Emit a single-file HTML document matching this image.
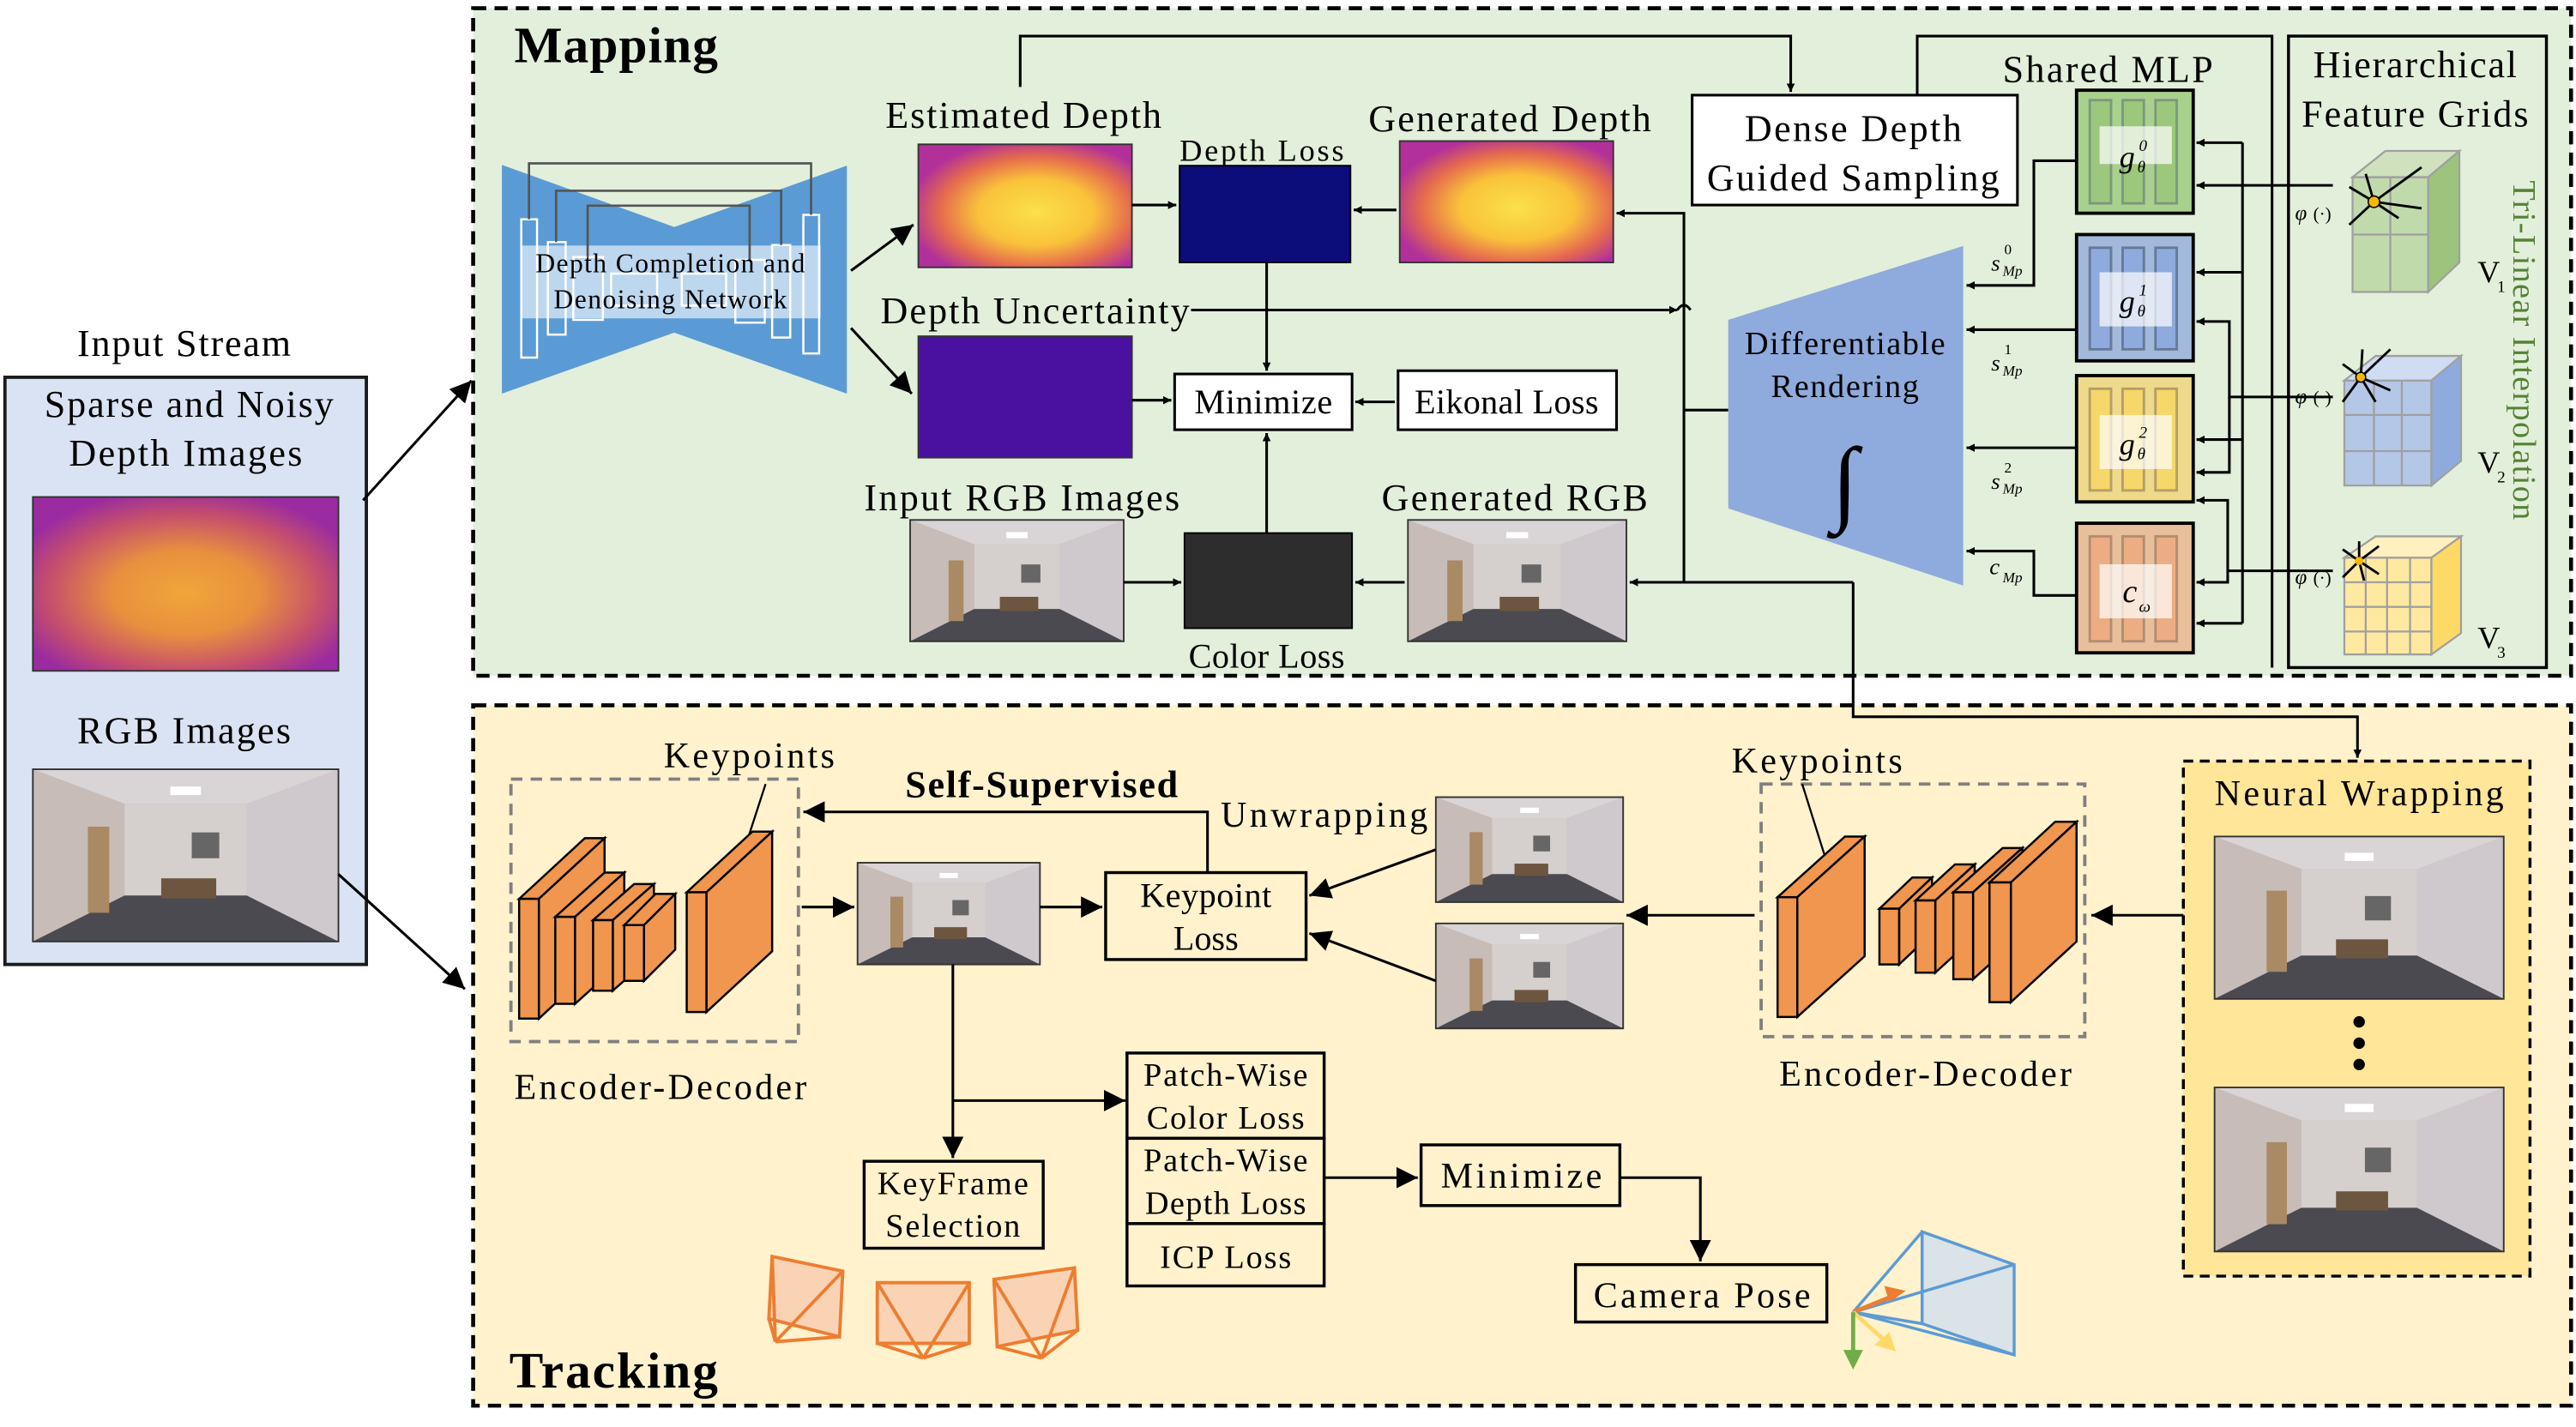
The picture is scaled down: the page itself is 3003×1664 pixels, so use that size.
<!DOCTYPE html>
<html><head><meta charset="utf-8"><style>
html,body{margin:0;padding:0;background:#fff;}
svg{display:block;}
text{font-family:"Liberation Serif",serif;fill:#000;}
</style></head><body>
<svg width="3003" height="1664" viewBox="0 0 1568 870" preserveAspectRatio="none" xmlns="http://www.w3.org/2000/svg">
<defs>
<marker id="ar" viewBox="0 0 10 10" refX="10" refY="5" markerWidth="5" markerHeight="5" orient="auto" markerUnits="userSpaceOnUse"><path d="M0,0 L10,5 L0,10 z" fill="#000"/></marker>
<marker id="a2" viewBox="0 0 10 10" refX="10" refY="5" markerWidth="13" markerHeight="13" orient="auto" markerUnits="userSpaceOnUse"><path d="M0,0 L10,5 L0,10 z" fill="#000"/></marker>
<radialGradient id="dep2" cx="0.55" cy="0.55" r="0.6"><stop offset="0" stop-color="#fbe14a"/><stop offset="0.45" stop-color="#f9c23a"/><stop offset="0.75" stop-color="#e56a4e"/><stop offset="1" stop-color="#b2309a"/></radialGradient>
<radialGradient id="noisy" cx="0.5" cy="0.55" r="0.6"><stop offset="0" stop-color="#f0a63a"/><stop offset="0.4" stop-color="#e8903e"/><stop offset="0.75" stop-color="#c54f6c"/><stop offset="1" stop-color="#9a2ba0"/></radialGradient>
<symbol id="room" viewBox="0 0 100 60" preserveAspectRatio="none">
<rect width="100" height="60" fill="#bdb4b2"/>
<polygon points="0,0 100,0 70,12 30,12" fill="#d9d4d6"/>
<polygon points="0,0 30,12 30,44 0,60" fill="#c7bcb8"/>
<polygon points="100,0 70,12 70,44 100,60" fill="#cfc9cd"/>
<rect x="30" y="12" width="40" height="32" fill="#d5cfcd"/>
<polygon points="30,44 70,44 100,60 0,60" fill="#4a4a50"/>
<rect x="45" y="6" width="10" height="3" fill="#fff"/>
<rect x="52" y="22" width="9" height="9" fill="#666"/>
<rect x="18" y="20" width="7" height="30" fill="#a98a64"/>
<rect x="42" y="38" width="18" height="7" fill="#6c5640"/>
</symbol>
</defs>

<!-- Input stream -->
<text x="112" y="217" font-size="23" text-anchor="middle" textLength="130">Input Stream</text>
<rect x="3" y="230" width="220" height="358" fill="#dae3f3" stroke="#1a1a1a" stroke-width="2"/>
<text x="115" y="254" font-size="23" text-anchor="middle" textLength="176">Sparse and Noisy</text>
<text x="113" y="284" font-size="23" text-anchor="middle" textLength="142">Depth Images</text>
<rect x="20" y="303" width="186" height="106" fill="url(#noisy)" stroke="#333" stroke-width="1"/>
<text x="112" y="453" font-size="23" text-anchor="middle" textLength="130">RGB Images</text>
<use href="#room" x="20" y="469" width="186" height="105"/>
<rect x="20" y="469" width="186" height="105" fill="none" stroke="#333" stroke-width="1"/>
<line x1="221" y1="305" x2="287" y2="232" stroke="#000" stroke-width="1.6" marker-end="url(#a2)"/>
<line x1="206" y1="533" x2="283" y2="603" stroke="#000" stroke-width="1.6" marker-end="url(#a2)"/>

<!-- Mapping panel -->
<rect x="288" y="5" width="1277" height="407" fill="#e2efda" stroke="#000" stroke-width="2.4" stroke-dasharray="8,5"/>
<text x="313" y="38" font-size="31" font-weight="bold" textLength="124">Mapping</text>

<!-- network -->
<polygon points="305.5,100.5 410.4,138.4 515.5,101 515.5,240 410.4,202.8 305.5,240" fill="#5b9bd5"/>
<rect x="316.8" y="149.7" width="182.7" height="44.4" fill="#bdd7ee"/>
<g fill="none" stroke="#fff" stroke-width="1.3">
<rect x="317.3" y="133.7" width="9.6" height="84.3"/><rect x="333.5" y="147.6" width="10.8" height="56.4"/><rect x="349" y="156.7" width="18" height="38.3"/><rect x="372" y="166.8" width="28" height="19.5"/><rect x="415" y="166.8" width="27" height="19.5"/><rect x="447.6" y="158.4" width="17.9" height="38.3"/><rect x="470" y="149.4" width="11" height="56.4"/><rect x="489" y="131" width="9.6" height="84.5"/>
</g>
<g fill="none" stroke="#555" stroke-width="1.4">
<polyline points="322,133.7 322,99.6 493.7,99.6 493.7,131"/>
<polyline points="338.5,147.6 338.5,116.3 475.5,116.3 475.5,149.4"/>
<polyline points="357.7,156.7 357.7,125.4 456.3,125.4 456.3,158.4"/>
</g>
<text x="408" y="166" font-size="16.5" text-anchor="middle" textLength="164">Depth Completion and</text>
<text x="408" y="188" font-size="16.5" text-anchor="middle" textLength="142">Denoising Network</text>
<line x1="518" y1="165" x2="556" y2="137" stroke="#000" stroke-width="1.6" marker-end="url(#a2)"/>
<line x1="518" y1="200" x2="555" y2="240" stroke="#000" stroke-width="1.6" marker-end="url(#a2)"/>

<text x="623" y="78" font-size="23" text-anchor="middle" textLength="168">Estimated Depth</text>
<rect x="559" y="88" width="130" height="75" fill="url(#dep2)" stroke="#333" stroke-width="1"/>
<text x="768" y="98" font-size="19" text-anchor="middle" textLength="100">Depth Loss</text>
<rect x="718" y="101" width="104" height="59" fill="#0c0c7a" stroke="#000" stroke-width="1"/>
<text x="919" y="80" font-size="23" text-anchor="middle" textLength="172">Generated Depth</text>
<rect x="852" y="86" width="130" height="74" fill="url(#dep2)" stroke="#333" stroke-width="1"/>
<text x="630" y="197" font-size="23" text-anchor="middle" textLength="188">Depth Uncertainty</text>
<rect x="559" y="205" width="130" height="74" fill="#4a10a0" stroke="#333" stroke-width="1"/>
<rect x="715" y="228" width="108" height="34" fill="#fff" stroke="#000" stroke-width="1.6"/>
<text x="769" y="252" font-size="21" text-anchor="middle" textLength="84">Minimize</text>
<rect x="851" y="226" width="133" height="36" fill="#fff" stroke="#000" stroke-width="1.6"/>
<text x="917" y="252" font-size="21" text-anchor="middle" textLength="112">Eikonal Loss</text>
<text x="622" y="311" font-size="23" text-anchor="middle" textLength="192">Input RGB Images</text>
<use href="#room" x="554" y="317" width="130" height="74"/>
<rect x="554" y="317" width="130" height="74" fill="none" stroke="#333"/>
<rect x="721" y="325" width="102" height="58" fill="#2d2d2d" stroke="#000"/>
<text x="771" y="407" font-size="21" text-anchor="middle" textLength="95">Color Loss</text>
<text x="922" y="311" font-size="23" text-anchor="middle" textLength="162">Generated RGB</text>
<use href="#room" x="857" y="317" width="133" height="74"/>
<rect x="857" y="317" width="133" height="74" fill="none" stroke="#333"/>

<g stroke="#000" stroke-width="1.6" fill="none">
<line x1="689" y1="125" x2="716" y2="125" marker-end="url(#ar)"/>
<line x1="850" y1="128" x2="824" y2="128" marker-end="url(#ar)"/>
<line x1="771" y1="160" x2="771" y2="226" marker-end="url(#ar)"/>
<line x1="689" y1="244" x2="713" y2="244" marker-end="url(#ar)"/>
<line x1="849" y1="245" x2="825" y2="245" marker-end="url(#ar)"/>
<line x1="771" y1="325" x2="771" y2="264" marker-end="url(#ar)"/>
<line x1="684" y1="355" x2="719" y2="355" marker-end="url(#ar)"/>
<line x1="855" y1="355" x2="825" y2="355" marker-end="url(#ar)"/>
<polyline points="621,53 621,22 1090,22 1090,56" marker-end="url(#ar)"/>
<polyline points="725,189 1021,189 M1029,189 1060,189 1060,127" marker-end="url(#ar)"/>
<path d="M1021,189 q4,-6 8,0"/>
<polyline points="1025,355 1025,130 984,130" marker-end="url(#ar)"/>
<line x1="1128" y1="355" x2="992" y2="355" marker-end="url(#ar)"/>
<line x1="1025" y1="250" x2="1052" y2="250"/>
</g>

<rect x="1030" y="58" width="198" height="67" fill="#fff" stroke="#000" stroke-width="1.6"/>
<text x="1128" y="86" font-size="23" text-anchor="middle" textLength="132">Dense Depth</text>
<text x="1128" y="116" font-size="23" text-anchor="middle" textLength="178">Guided Sampling</text>

<polygon points="1052,195 1195,150 1195,357 1052,310" fill="#8faadc"/>
<text x="1123" y="216" font-size="20" text-anchor="middle" textLength="122">Differentiable</text>
<text x="1123" y="242" font-size="20" text-anchor="middle" textLength="90">Rendering</text>
<text x="1123" y="313" font-size="58" font-style="italic" text-anchor="middle">∫</text>

<polyline points="1167,58 1167,22 1383,22 1383,407" fill="none" stroke="#000" stroke-width="1.6"/>
<text x="1283" y="50" font-size="23" text-anchor="middle" textLength="128">Shared MLP</text>

<!-- MLP boxes -->
<g stroke-width="2">
<rect x="1264" y="55" width="71" height="75" fill="#a9d18e" stroke="#000"/>
<rect x="1264" y="143" width="71" height="77" fill="#a3b9dc" stroke="#000"/>
<rect x="1264" y="229" width="71" height="77" fill="#efd98a" stroke="#000"/>
<rect x="1264" y="319" width="71" height="79" fill="#e8bf9b" stroke="#000"/>
</g>
<g stroke-width="1.5" stroke-opacity="0.5">
<rect x="1272" y="61" width="13" height="63" fill="#9bc87c" stroke="#567"/><rect x="1292" y="61" width="13" height="63" fill="#9bc87c" stroke="#567"/><rect x="1312" y="61" width="13" height="63" fill="#9bc87c" stroke="#567"/>
<rect x="1272" y="151" width="13" height="62" fill="#8faadc" stroke="#345"/><rect x="1292" y="151" width="13" height="62" fill="#8faadc" stroke="#345"/><rect x="1312" y="151" width="13" height="62" fill="#8faadc" stroke="#345"/>
<rect x="1272" y="237" width="13" height="62" fill="#f5d76a" stroke="#765"/><rect x="1292" y="237" width="13" height="62" fill="#f5d76a" stroke="#765"/><rect x="1312" y="237" width="13" height="62" fill="#f5d76a" stroke="#765"/>
<rect x="1272" y="327" width="13" height="64" fill="#edad84" stroke="#765"/><rect x="1292" y="327" width="13" height="64" fill="#edad84" stroke="#765"/><rect x="1312" y="327" width="13" height="64" fill="#edad84" stroke="#765"/>
</g>
<g fill="#fff" fill-opacity="0.7">
<rect x="1278" y="77" width="44" height="23"/><rect x="1278" y="166" width="44" height="33"/><rect x="1278" y="253" width="44" height="33"/><rect x="1278" y="344" width="44" height="33"/>
</g>
<g font-style="italic">
<text x="1290" y="102" font-size="19">g</text><text x="1302" y="92" font-size="10">0</text><text x="1301" y="105" font-size="10">θ</text>
<text x="1290" y="190" font-size="19">g</text><text x="1302" y="180" font-size="10">1</text><text x="1301" y="193" font-size="10">θ</text>
<text x="1290" y="277" font-size="19">g</text><text x="1302" y="267" font-size="10">2</text><text x="1301" y="280" font-size="10">θ</text>
<text x="1292" y="367" font-size="20">c</text><text x="1302" y="373" font-size="10">ω</text>
</g>

<g stroke="#000" stroke-width="1.6" fill="none">
<polyline points="1264,98 1238,98 1238,174 1197,174" marker-end="url(#ar)"/>
<line x1="1264" y1="201" x2="1197" y2="201" marker-end="url(#ar)"/>
<line x1="1264" y1="273" x2="1197" y2="273" marker-end="url(#ar)"/>
<polyline points="1264,363 1238,363 1238,336 1197,336" marker-end="url(#ar)"/>
<polyline points="1365,87 1365,380"/>
<line x1="1365" y1="87" x2="1337" y2="87" marker-end="url(#ar)"/>
<line x1="1365" y1="166" x2="1337" y2="166" marker-end="url(#ar)"/>
<line x1="1365" y1="268" x2="1337" y2="268" marker-end="url(#ar)"/>
<line x1="1365" y1="380" x2="1337" y2="380" marker-end="url(#ar)"/>
<line x1="1365" y1="113" x2="1337" y2="113" marker-end="url(#ar)"/>
<line x1="1420" y1="113" x2="1365" y2="113"/>
<polyline points="1420,242 1357,242 1357,196 1337,196" marker-end="url(#ar)"/>
<polyline points="1357,242 1357,288 1337,288" marker-end="url(#ar)"/>
<polyline points="1420,348 1356,348 1356,305 1337,305" marker-end="url(#ar)"/>
<polyline points="1356,348 1356,355 1337,355" marker-end="url(#ar)"/>
</g>
<text x="1212" y="165" font-size="14" font-style="italic">s</text><text x="1220" y="155" font-size="9">0</text><text x="1219" y="168" font-size="9" font-style="italic">Mp</text>
<text x="1212" y="226" font-size="14" font-style="italic">s</text><text x="1220" y="216" font-size="9">1</text><text x="1219" y="229" font-size="9" font-style="italic">Mp</text>
<text x="1212" y="298" font-size="14" font-style="italic">s</text><text x="1220" y="288" font-size="9">2</text><text x="1219" y="301" font-size="9" font-style="italic">Mp</text>
<text x="1211" y="350" font-size="14" font-style="italic">c</text><text x="1219" y="355" font-size="9" font-style="italic">Mp</text>

<!-- feature grids -->
<rect x="1393" y="22" width="157" height="385" fill="none" stroke="#000" stroke-width="1.8"/>
<text x="1470" y="47" font-size="23" text-anchor="middle" textLength="124">Hierarchical</text>
<text x="1470" y="77" font-size="23" text-anchor="middle" textLength="138">Feature Grids</text>
<g stroke="#a0a0a0" stroke-width="1.2">
<polygon points="1432,108 1478,108 1478,178 1432,178" fill="#b9d5a0" fill-opacity="0.8"/>
<polygon points="1432,108 1452,92 1497,92 1478,108" fill="#cfe2bd"/>
<polygon points="1478,108 1497,92 1497,160 1478,178" fill="#9cc47c"/>
<line x1="1455" y1="108" x2="1455" y2="178"/><line x1="1432" y1="143" x2="1478" y2="143"/>
<polygon points="1427,232 1480,232 1480,296 1427,296" fill="#b4c7e7"/>
<polygon points="1427,232 1446,217 1498,217 1480,232" fill="#d0dcf2"/>
<polygon points="1480,232 1498,217 1498,281 1480,296" fill="#8faadc"/>
<line x1="1445" y1="232" x2="1445" y2="296"/><line x1="1462" y1="232" x2="1462" y2="296"/><line x1="1427" y1="253" x2="1480" y2="253"/><line x1="1427" y1="275" x2="1480" y2="275"/>
<polygon points="1427,340 1480,340 1480,399 1427,399" fill="#ffe9a0"/>
<polygon points="1427,340 1446,327 1498,327 1480,340" fill="#fff0c0"/>
<polygon points="1480,340 1498,327 1498,386 1480,399" fill="#ffd966"/>
<line x1="1440" y1="340" x2="1440" y2="399"/><line x1="1453" y1="340" x2="1453" y2="399"/><line x1="1467" y1="340" x2="1467" y2="399"/><line x1="1427" y1="355" x2="1480" y2="355"/><line x1="1427" y1="370" x2="1480" y2="370"/><line x1="1427" y1="385" x2="1480" y2="385"/>
</g>
<g stroke="#000" stroke-width="1.5">
<line x1="1445" y1="123" x2="1430" y2="114"/><line x1="1445" y1="123" x2="1474" y2="102"/><line x1="1445" y1="123" x2="1440" y2="106"/><line x1="1445" y1="123" x2="1474" y2="127"/><line x1="1445" y1="123" x2="1430" y2="137"/><line x1="1445" y1="123" x2="1460" y2="133"/>
<line x1="1437" y1="230" x2="1426" y2="222"/><line x1="1437" y1="230" x2="1455" y2="213"/><line x1="1437" y1="230" x2="1438" y2="213"/><line x1="1437" y1="230" x2="1455" y2="238"/><line x1="1437" y1="230" x2="1426" y2="245"/><line x1="1437" y1="230" x2="1446" y2="245"/>
<line x1="1436" y1="342" x2="1426" y2="335"/><line x1="1436" y1="342" x2="1448" y2="333"/><line x1="1436" y1="342" x2="1436" y2="330"/><line x1="1436" y1="342" x2="1448" y2="350"/><line x1="1436" y1="342" x2="1426" y2="352"/><line x1="1436" y1="342" x2="1439" y2="354"/>
</g>
<circle cx="1445" cy="123" r="3.5" fill="#f5b800" stroke="#000" stroke-width="0.8"/>
<circle cx="1437" cy="230" r="3" fill="#f5b800" stroke="#000" stroke-width="0.8"/>
<circle cx="1436" cy="342" r="2.5" fill="#f5b800"/>
<g font-size="13" font-style="italic"><text x="1397" y="134">φ</text><text x="1397" y="246">φ</text><text x="1397" y="356">φ</text></g>
<g font-size="11"><text x="1408" y="134">(·)</text><text x="1408" y="246">(·)</text><text x="1408" y="356">(·)</text></g>
<g font-size="19"><text x="1508" y="172">V</text><text x="1508" y="288">V</text><text x="1508" y="395">V</text></g>
<g font-size="10"><text x="1520" y="178">1</text><text x="1520" y="294">2</text><text x="1520" y="401">3</text></g>
<text transform="translate(1530,110) rotate(90)" font-size="20" style="fill:#548235" textLength="207">Tri-Linear Interpolation</text>

<!-- Tracking panel -->
<rect x="288" y="430" width="1277" height="427" fill="#fff2cc" stroke="#000" stroke-width="2.4" stroke-dasharray="8,5"/>
<text x="310" y="846" font-size="31" font-weight="bold" textLength="127">Tracking</text>

<polyline points="1128,355 1128,437 1435,437 1435,462" fill="none" stroke="#000" stroke-width="1.6" marker-end="url(#ar)"/>

<rect x="311" y="475" width="175" height="160" fill="none" stroke="#808080" stroke-width="2" stroke-dasharray="7,5"/>
<text x="456" y="468" font-size="22" text-anchor="middle" textLength="104">Keypoints</text>
<line x1="466" y1="478" x2="455" y2="512" stroke="#000" stroke-width="1.2"/>
<text x="402" y="670" font-size="22" text-anchor="middle" textLength="178">Encoder-Decoder</text>
<g fill="#f0964e" stroke="#000" stroke-width="1.3">
<polygon points="316,548 356,511 368,511 328,548"/><polygon points="328,548 368,511 368,584 328,621"/><rect x="316" y="548" width="12" height="73"/>
<polygon points="338,559 368,532 380,532 350,559"/><polygon points="350,559 380,532 380,585 350,612"/><rect x="338" y="559" width="12" height="53"/>
<polygon points="361,561 386,539 398,539 373,561"/><polygon points="373,561 398,539 398,582 373,604"/><rect x="361" y="561" width="12" height="43"/>
<polygon points="380,564 399,545 411,545 392,564"/><polygon points="392,564 411,545 411,579 392,598"/><rect x="380" y="564" width="12" height="34"/>
<polygon points="418,544 458,507 470,507 430,544"/><polygon points="430,544 470,507 470,580 430,617"/><rect x="418" y="544" width="12" height="73"/>
</g>
<line x1="488" y1="553" x2="520" y2="553" stroke="#000" stroke-width="1.6" marker-end="url(#a2)"/>
<use href="#room" x="522" y="526" width="111" height="62"/>
<rect x="522" y="526" width="111" height="62" fill="none" stroke="#333"/>
<line x1="633" y1="553" x2="671" y2="553" stroke="#000" stroke-width="1.6" marker-end="url(#a2)"/>
<rect x="673" y="532" width="122" height="53" fill="#fff2cc" stroke="#000" stroke-width="1.8"/>
<text x="734" y="553" font-size="21" text-anchor="middle" textLength="80">Keypoint</text>
<text x="734" y="579" font-size="21" text-anchor="middle">Loss</text>
<text x="634" y="486" font-size="23" font-weight="bold" text-anchor="middle" textLength="166">Self-Supervised</text>
<text x="806" y="504" font-size="22" text-anchor="middle" textLength="126">Unwrapping</text>
<polyline points="735,532 735,495 489,495" fill="none" stroke="#000" stroke-width="1.6" marker-end="url(#a2)"/>
<use href="#room" x="874" y="486" width="114" height="64"/>
<rect x="874" y="486" width="114" height="64" fill="none" stroke="#333"/>
<use href="#room" x="874" y="563" width="114" height="64"/>
<rect x="874" y="563" width="114" height="64" fill="none" stroke="#333"/>
<line x1="874" y1="518" x2="797" y2="546" stroke="#000" stroke-width="1.6" marker-end="url(#a2)"/>
<line x1="874" y1="598" x2="797" y2="569" stroke="#000" stroke-width="1.6" marker-end="url(#a2)"/>

<rect x="1072" y="478" width="197" height="154" fill="none" stroke="#808080" stroke-width="2" stroke-dasharray="7,5"/>
<text x="1106" y="471" font-size="22" text-anchor="middle" textLength="104">Keypoints</text>
<line x1="1097" y1="478" x2="1113" y2="529" stroke="#000" stroke-width="1.2"/>
<text x="1172" y="662" font-size="22" text-anchor="middle" textLength="178">Encoder-Decoder</text>
<g fill="#f0964e" stroke="#000" stroke-width="1.3">
<polygon points="1082,547 1123,510 1135,510 1094,547"/><polygon points="1094,547 1135,510 1135,583 1094,620"/><rect x="1082" y="547" width="12" height="73"/>
<polygon points="1144,554 1164,535 1176,535 1156,554"/><polygon points="1156,554 1176,535 1176,569 1156,588"/><rect x="1144" y="554" width="12" height="34"/>
<polygon points="1166,549 1190,527 1202,527 1178,549"/><polygon points="1178,549 1202,527 1202,571 1178,593"/><rect x="1166" y="549" width="12" height="44"/>
<polygon points="1189,544 1219,517 1231,517 1201,544"/><polygon points="1201,544 1231,517 1231,570 1201,597"/><rect x="1189" y="544" width="12" height="53"/>
<polygon points="1211,538 1251,501 1264,501 1224,538"/><polygon points="1224,538 1264,501 1264,574 1224,611"/><rect x="1211" y="538" width="13" height="73"/>
</g>
<line x1="1068" y1="558" x2="990" y2="558" stroke="#000" stroke-width="1.6" marker-end="url(#a2)"/>

<rect x="1329" y="464" width="211" height="314" fill="#ffe699" stroke="#000" stroke-width="1.8" stroke-dasharray="6,4"/>
<text x="1436" y="491" font-size="22" text-anchor="middle" textLength="176">Neural Wrapping</text>
<use href="#room" x="1348" y="510" width="176" height="99"/>
<rect x="1348" y="510" width="176" height="99" fill="none" stroke="#333"/>
<circle cx="1436" cy="623" r="3.5"/><circle cx="1436" cy="636" r="3.5"/><circle cx="1436" cy="649" r="3.5"/>
<use href="#room" x="1348" y="663" width="176" height="100"/>
<rect x="1348" y="663" width="176" height="100" fill="none" stroke="#333"/>
<line x1="1329" y1="558" x2="1273" y2="558" stroke="#000" stroke-width="1.6" marker-end="url(#a2)"/>

<g stroke="#000" stroke-width="1.6" fill="none">
<line x1="580" y1="588" x2="580" y2="706" marker-end="url(#a2)"/>
<line x1="580" y1="671" x2="685" y2="671" marker-end="url(#a2)"/>
<line x1="806" y1="718" x2="863" y2="718" marker-end="url(#a2)"/>
<polyline points="986,718 1035,718 1035,769" marker-end="url(#a2)"/>
</g>
<rect x="526" y="708" width="109" height="53" fill="#fff2cc" stroke="#000" stroke-width="1.8"/>
<text x="580" y="728" font-size="20" text-anchor="middle" textLength="92">KeyFrame</text>
<text x="580" y="754" font-size="20" text-anchor="middle" textLength="82">Selection</text>
<g fill="#fff2cc" stroke="#000" stroke-width="1.8">
<rect x="686" y="642" width="120" height="52"/><rect x="686" y="694" width="120" height="52"/><rect x="686" y="746" width="120" height="38"/>
</g>
<text x="746" y="662" font-size="20" text-anchor="middle" textLength="100">Patch-Wise</text>
<text x="746" y="688" font-size="20" text-anchor="middle" textLength="96">Color Loss</text>
<text x="746" y="714" font-size="20" text-anchor="middle" textLength="100">Patch-Wise</text>
<text x="746" y="740" font-size="20" text-anchor="middle" textLength="98">Depth Loss</text>
<text x="746" y="773" font-size="20" text-anchor="middle" textLength="80">ICP Loss</text>
<rect x="865" y="698" width="121" height="37" fill="#fff2cc" stroke="#000" stroke-width="1.8"/>
<text x="926" y="724" font-size="22" text-anchor="middle" textLength="98">Minimize</text>
<rect x="959" y="771" width="153" height="35" fill="#fff2cc" stroke="#000" stroke-width="1.8"/>
<text x="1036" y="797" font-size="22" text-anchor="middle" textLength="132">Camera Pose</text>

<!-- orange cameras -->
<g stroke="#ed7d31" stroke-width="2" fill="none">
<polygon points="470,766 513,775 511,815 468,804" fill="#f8cbad" fill-opacity="0.8"/>
<line x1="472" y1="818" x2="470" y2="766"/><line x1="472" y1="818" x2="513" y2="775"/><line x1="472" y1="818" x2="511" y2="815"/><line x1="472" y1="818" x2="468" y2="804"/>
<polygon points="534,782 590,782 590,819 534,819" fill="#f8cbad" fill-opacity="0.8"/>
<line x1="562" y1="828" x2="534" y2="782"/><line x1="562" y1="828" x2="590" y2="782"/><line x1="562" y1="828" x2="590" y2="819"/><line x1="562" y1="828" x2="534" y2="819"/>
<polygon points="605,780 654,773 656,811 607,821" fill="#f8cbad" fill-opacity="0.8"/>
<line x1="634" y1="828" x2="605" y2="780"/><line x1="634" y1="828" x2="654" y2="773"/><line x1="634" y1="828" x2="656" y2="811"/><line x1="634" y1="828" x2="607" y2="821"/>
</g>
<!-- camera pose frustum -->
<polygon points="1170,751 1226,771 1226,826 1170,807" fill="#dae3e8" stroke="#5b9bd5" stroke-width="1.8"/>
<g stroke="#5b9bd5" stroke-width="1.8"><line x1="1128" y1="800" x2="1170" y2="751"/><line x1="1128" y1="800" x2="1226" y2="771"/><line x1="1128" y1="800" x2="1226" y2="826"/><line x1="1128" y1="800" x2="1170" y2="807"/></g>
<line x1="1128" y1="800" x2="1155" y2="789" stroke="#ed7d31" stroke-width="2.5"/>
<polygon points="1160,787 1147,784 1150,794" fill="#ed7d31"/>
<line x1="1128" y1="800" x2="1148" y2="818" stroke="#ffd966" stroke-width="2.5"/>
<polygon points="1154,824 1141,820 1150,812" fill="#ffd966"/>
<line x1="1128" y1="800" x2="1128" y2="825" stroke="#70ad47" stroke-width="2.5"/>
<polygon points="1122,823 1134,823 1128,835" fill="#70ad47"/>
</svg>
</body></html>
